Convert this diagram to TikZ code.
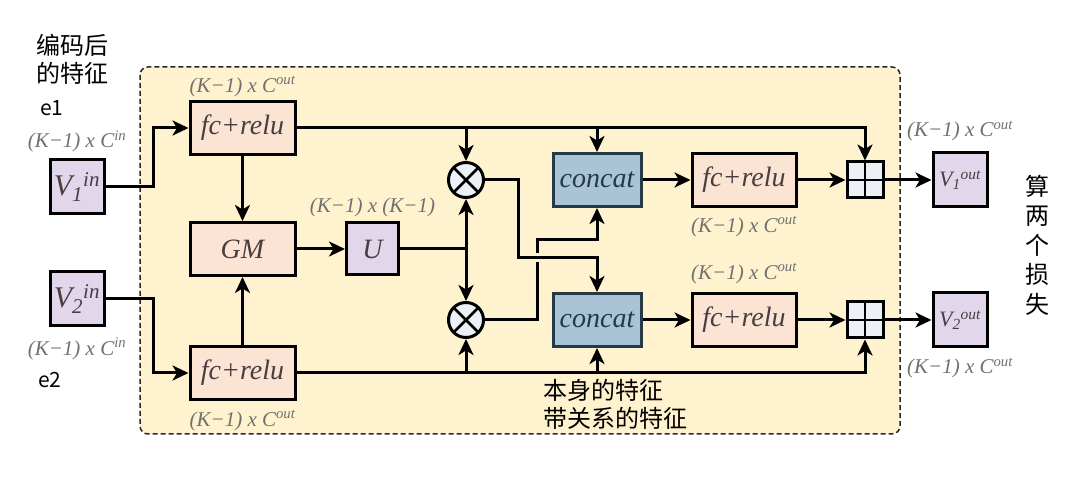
\documentclass[tikz,border=0pt]{standalone}
\usepackage{fontspec}
\setmainfont{Liberation Serif}
\newfontfamily\cjk{Noto Sans CJK SC}
\usepackage{tikz}
\usetikzlibrary{calc, positioning, arrows.meta}
\definecolor{panelY}{RGB}{255, 242, 206}
\definecolor{panelEdge}{RGB}{40, 40, 40}
\definecolor{fcPeach}{RGB}{252, 228, 212}
\definecolor{vLav}{RGB}{226, 214, 234}
\definecolor{catBlue}{RGB}{168, 196, 214}
\definecolor{catEdge}{RGB}{38, 58, 70}
\definecolor{opFill}{RGB}{236, 241, 247}
\definecolor{dimGray}{RGB}{112, 112, 112}
\definecolor{inkText}{RGB}{72, 62, 66}

\newcommand{\dimlab}[1]{(K−1) x C\textsuperscript{#1}}
\newcommand{\vsym}[2]{V\textsubscript{#1}\textsuperscript{#2}}

\begin{document}
\begin{tikzpicture}[x=1pt, y=-1pt, line width=3pt,
  arr/.style={-{Stealth[length=16pt, width=15pt, inset=4.5pt]}},
  fcbox/.style={draw, fill=fcPeach, minimum width=105pt, minimum height=53pt,
    inner sep=0pt, text=inkText, font=\fontsize{28}{28}\selectfont\itshape},
  vbox/.style={draw, fill=vLav, minimum width=54pt, minimum height=54pt,
    inner sep=0pt, text=inkText},
  catbox/.style={draw=catEdge, fill=catBlue, minimum width=88pt, minimum height=53pt,
    inner sep=0pt, text=catEdge, font=\fontsize{28}{28}\selectfont\itshape},
  otimes/.style={circle, draw, fill=opFill, minimum size=35pt, inner sep=0pt,
    path picture={\draw[line width=2.6pt]
      (path picture bounding box.north west) -- (path picture bounding box.south east)
      (path picture bounding box.south west) -- (path picture bounding box.north east);}},
  plusbox/.style={draw, fill=opFill, minimum size=36pt, inner sep=0pt,
    path picture={\draw[line width=2.6pt]
      (path picture bounding box.north) -- (path picture bounding box.south)
      (path picture bounding box.west) -- (path picture bounding box.east);}},
  dim/.style={inner sep=1pt, text=dimGray, font=\fontsize{21}{21}\selectfont\itshape},
  zh/.style={inner sep=0pt, font=\fontsize{24}{28}\selectfont\cjk},
]
  \useasboundingbox (0,0) rectangle (1072,494);

  % Dashed panel behind the module
  \draw[panelEdge, fill=panelY, line width=1.5pt, dash pattern=on 5pt off 3pt,
    rounded corners=8pt] (140,67) rectangle (900,434);

  % Inputs and outputs
  \node[vbox, font=\fontsize{30}{30}\selectfont\itshape] (v1in) at (77,187) {\vsym{1}{in}};
  \node[vbox, font=\fontsize{30}{30}\selectfont\itshape] (v2in) at (77,299) {\vsym{2}{in}};
  \node[vbox, font=\fontsize{22}{22}\selectfont\itshape] (v1out) at (960,180) {\vsym{1}{out}};
  \node[vbox, font=\fontsize{22}{22}\selectfont\itshape] (v2out) at (960,320) {\vsym{2}{out}};

  % Layers
  \node[fcbox] (fc1) at (242.5,128) {fc+relu};
  \node[fcbox] (gm)  at (242.5,249) {GM};
  \node[fcbox] (fc2) at (242.5,373) {fc+relu};
  \node[vbox, minimum size=52pt, font=\fontsize{28}{28}\selectfont\itshape] (u) at (372.5,249) {U};
  \node[otimes] (ot1) at (466,180) {};
  \node[otimes] (ot2) at (466,320) {};
  \node[catbox] (cat1) at (597,180) {concat};
  \node[catbox] (cat2) at (597,320) {concat};
  \node[fcbox, minimum width=104pt] (fc3) at (744,180) {fc+relu};
  \node[fcbox, minimum width=104pt] (fc4) at (744,320) {fc+relu};
  \node[plusbox] (pl1) at (865,180) {};
  \node[plusbox] (pl2) at (865,320) {};

  % Size labels
  \node[dim, above=4pt of v1in] (dv1in) {\dimlab{in}};
  \node[dim, below=8pt of v2in] (dv2in) {\dimlab{in}};
  \node[dim, above=1pt of fc1] (dfc1) {\dimlab{out}};
  \node[dim, below=7pt of fc2] (dfc2) {\dimlab{out}};
  \node[dim, above=2pt of u] (du) {(K−1) x (K−1)};
  \node[dim, below=6pt of fc3] (dfc3) {\dimlab{out}};
  \node[dim, above=6pt of fc4] (dfc4) {\dimlab{out}};
  \node[dim, above=8pt of v1out] (dv1out) {\dimlab{out}};
  \node[dim, below=7pt of v2out] (dv2out) {\dimlab{out}};

  % Notes
  \node[zh, align=left, anchor=west] (enc) at (35,59) {编码后\\的特征};
  \node[zh, font=\fontsize{21}{21}\selectfont\cjk] (e1) at (52,108) {e1};
  \node[zh, font=\fontsize{21}{21}\selectfont\cjk] (e2) at (50,380) {e2};
  \node[zh, anchor=west] (selfFeat) at (542,390) {本身的特征};
  \node[zh, anchor=west] (relFeat) at (542,418) {带关系的特征};
  \node[zh, align=center, font=\fontsize{24}{29.5}\selectfont\cjk] (loss) at (1037,245) {算\\两\\个\\损\\失};

  % Encoders and the relation branch
  \draw[arr] (v1in.east) -| ([xshift=-35pt]fc1.west) -- (fc1.west);
  \draw[arr] (v2in.east) -| ([xshift=-35pt]fc2.west) -- (fc2.west);
  \draw[arr] (fc1.south) -- (gm.north);
  \draw[arr] (fc2.north) -- (gm.south);
  \draw[arr] (gm.east) -- (u.west);
  \draw (u.east) -- (u.east -| ot1.south) coordinate (uj);
  \draw[arr] (uj) -- (ot1.south);
  \draw[arr] (uj) -- (ot2.north);

  % Own features carried past the products
  \draw[arr] (fc1.east) -| (pl1.north);
  \draw[arr] (fc1.east -| ot1.north) -- (ot1.north);
  \draw[arr] (fc1.east -| cat1.north) -- (cat1.north);
  \draw[arr] (fc2.east) -| (pl2.south);
  \draw[arr] (fc2.east -| ot2.south) -- (ot2.south);
  \draw[arr] (fc2.east -| cat2.south) -- (cat2.south);

  % Crossed products into the concats
  \coordinate (mid2) at (537,240);
  \coordinate (mid1) at (518,258);
  \draw[arr] (ot2.east) -| (mid2) -| (cat1.south);
  \draw[arr, preaction={draw=panelY, line width=9pt, -, shorten <=2pt, shorten >=16pt}]
    (ot1.east) -| (mid1) -| (cat2.north);

  % Heads and residual sums
  \draw[arr] (cat1.east) -- (fc3.west);
  \draw[arr] (cat2.east) -- (fc4.west);
  \draw[arr] (fc3.east) -- (pl1.west);
  \draw[arr] (fc4.east) -- (pl2.west);
  \draw[arr] (pl1.east) -- (v1out.west);
  \draw[arr] (pl2.east) -- (v2out.west);
\end{tikzpicture}
\end{document}
